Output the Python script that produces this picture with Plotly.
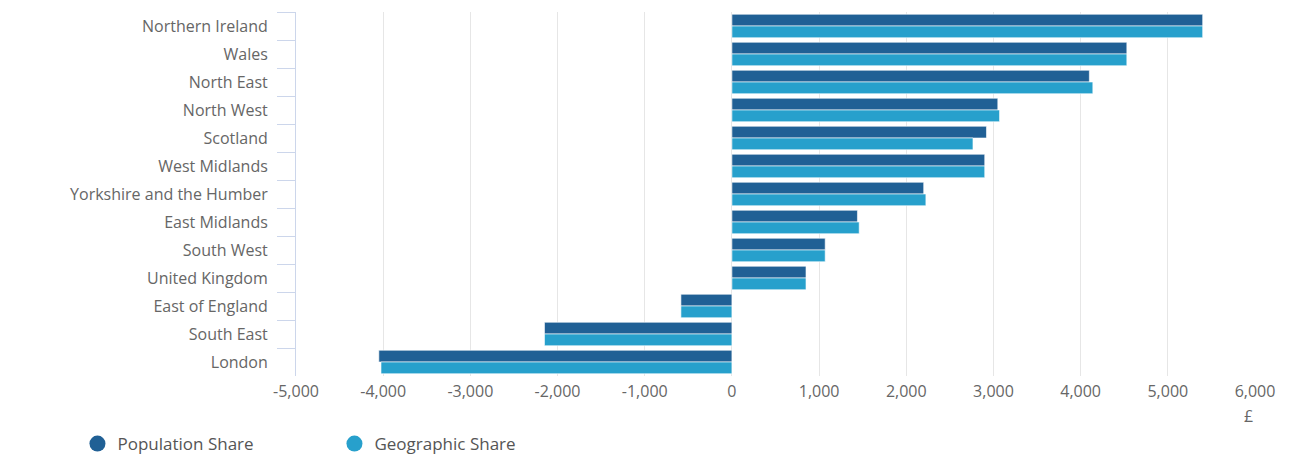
import plotly.graph_objects as go

regions = ["Northern Ireland", "Wales", "North East", "North West", "Scotland",
           "West Midlands", "Yorkshire and the Humber", "East Midlands", "South West",
           "United Kingdom", "East of England", "South East", "London"]
population_share = [5400, 4530, 4100, 3050, 2920, 2900, 2200, 1440, 1070, 850, -585, -2150, -4050]
geographic_share = [5400, 4530, 4140, 3070, 2765, 2900, 2225, 1460, 1070, 850, -585, -2150, -4025]
series_names = ["Population Share", "Geographic Share"]
colors = ["#206095", "#27a0cc"]
x_ticks = [-5000, -4000, -3000, -2000, -1000, 0, 1000, 2000, 3000, 4000, 5000, 6000]
x_ticktext = ["-5,000", "-4,000", "-3,000", "-2,000", "-1,000", "0", "1,000", "2,000",
              "3,000", "4,000", "5,000", "6,000"]

FONT = "Open Sans"
fig = go.Figure()
for name, vals, col in zip(series_names, [population_share, geographic_share], colors):
    fig.add_trace(go.Bar(
        y=regions, x=vals, orientation="h", name=name,
        marker=dict(color=col, line=dict(color="#ffffff", width=0.6)),
        showlegend=False,
    ))
for name, col in zip(series_names, colors):
    fig.add_trace(go.Scatter(
        x=[None], y=[None], mode="markers", name=name,
        marker=dict(color=col, size=16, symbol="circle"),
        showlegend=True,
    ))

fig.update_layout(
    width=1291, height=454,
    margin=dict(l=296, r=36, t=12, b=78),
    barmode="group", bargap=0.16, bargroupgap=0.0,
    plot_bgcolor="#ffffff", paper_bgcolor="#ffffff",
    font=dict(family=FONT, color="#666666"),
    xaxis=dict(
        range=[-5000, 6000], tickvals=x_ticks, ticktext=x_ticktext,
        showgrid=True, gridcolor="#e6e6e6", gridwidth=1,
        zeroline=False, showline=False, ticks="",
        ticklabelstandoff=4,
        tickfont=dict(family=FONT, size=16, color="#666666"),
    ),
    yaxis=dict(
        type="category", categoryorder="array", categoryarray=regions,
        autorange="reversed",
        showline=True, linecolor="#ccd6eb", linewidth=1,
        ticks="outside", tickson="boundaries", ticklen=18, tickcolor="#ccd6eb",
        showgrid=False, zeroline=False,
        ticklabelstandoff=24,
        tickfont=dict(family=FONT, size=16, color="#666666"),
    ),
    legend=dict(
        orientation="h", xref="container", yref="container",
        x=0.06, y=0.022, xanchor="left", yanchor="middle",
        font=dict(family=FONT, size=17, color="#555555"),
        entrywidth=212, entrywidthmode="pixels",
        itemclick=False,
    ),
    annotations=[dict(
        text="£", xref="paper", yref="paper", x=0.993, y=-0.075,
        xanchor="center", yanchor="top", showarrow=False,
        font=dict(family=FONT, size=16, color="#666666"),
    )],
)

fig.write_html("out.html")
